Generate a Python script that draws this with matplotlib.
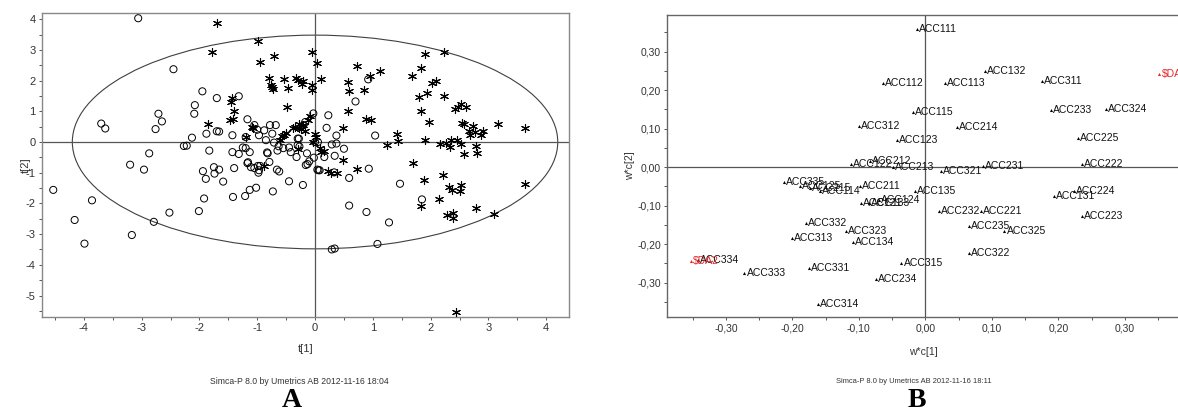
#!/usr/bin/env python
# coding: utf-8

# Score plot (A) and loading plot (B), Simca-P style

import numpy as np
import matplotlib
matplotlib.use('Agg')
import matplotlib.pyplot as plt
from matplotlib.patches import Ellipse
from matplotlib.ticker import MultipleLocator, FuncFormatter

# Data: score plot, open circles (t[1], t[2])
t1_circle = [-3.06, -2.45, -1.95, -1.70, -1.32, -2.08, -2.09, -2.71, -2.65, -2.76,
             -3.70, -3.63, -2.13, -1.88, -1.70, -1.66, -1.43, -1.17, -0.97, -1.20,
             -2.27, -2.22, -2.87, -1.83, -1.43, -1.32, -1.25, -1.20, -1.13, -3.20,
             -2.96, -1.94, -1.75, -1.66, -1.74, -1.89, -1.59, -1.40, -1.17, -1.11,
             -0.99, -0.95, -0.82, -0.83, -0.71, -0.79, -0.98, -0.66, -0.62, -0.78,
             -0.68, -0.88, -0.74, -0.63, -0.65, -0.45, -0.42, -0.32, -0.30, -4.53,
             -3.86, -1.92, -1.42, -1.21, -1.13, -1.02, -0.73, -4.16, -3.99, -3.17,
             -2.79, -2.52, -2.01, -0.21, 0.59, 0.89, 1.28, 1.47, 1.85, 0.29,
             0.34, 1.08, 0.92, 0.70, 0.23, 0.20, 0.37, 1.04, -0.03, -0.17,
             -0.20, -0.28, 0.00, 0.05, -0.30, -0.27, -0.45, -0.14, -0.02, 0.16,
             0.34, 0.50, 0.29, 0.37, -0.16, -0.13, 0.04, 0.08, 0.33, 0.59,
             0.93, -1.05, -1.00, -0.85, -0.55, -0.10, 0.06, -1.16, -1.05, -0.97]
t2_circle = [4.03, 2.37, 1.65, 1.43, 1.49, 1.20, 0.92, 0.92, 0.67, 0.42,
             0.60, 0.44, 0.14, 0.27, 0.35, 0.34, 0.22, 0.74, 0.22, 0.16,
             -0.13, -0.12, -0.37, -0.28, -0.33, -0.39, -0.18, -0.20, -0.33, -0.74,
             -0.90, -0.95, -0.82, -0.90, -1.03, -1.20, -1.29, -0.85, -0.69, -0.82,
             -0.78, -0.78, -0.37, -0.34, -0.02, -0.65, -1.00, -0.90, -0.96, 0.55,
             0.55, 0.38, 0.27, -0.14, -0.28, -1.28, -0.33, -0.49, 0.11, -1.56,
             -1.90, -1.84, -1.79, -1.76, -1.56, -1.49, -1.61, -2.54, -3.31, -3.03,
             -2.60, -2.30, -2.25, -1.40, -2.07, -2.28, -2.62, -1.36, -1.87, -3.50,
             -3.47, -3.32, 2.04, 1.32, 0.87, 0.46, 0.21, 0.21, 0.93, 0.65,
             0.55, 0.11, 0.00, 0.00, -0.10, -0.15, -0.18, -0.37, -0.51, -0.49,
             -0.45, -0.22, -0.08, -0.05, -0.75, -0.72, -0.90, -0.92, -0.99, -1.17,
             -0.87, 0.55, 0.40, 0.06, -0.20, -0.63, -0.92, -0.66, -0.85, -0.92]

# Data: score plot, asterisks (t[1], t[2])
t1_star = [-1.69, -1.78, -0.99, -0.96, -0.71, -0.79, -0.75, -0.73, -0.54, -0.33,
           -0.46, -0.48, -1.44, -1.46, -1.40, -1.47, -1.42, -1.85, -1.09, -1.08,
           -1.20, -0.57, -0.50, -0.38, -0.28, -0.28, -0.06, 0.04, -0.30, -0.22,
           -0.20, -0.06, 0.11, 0.72, 0.95, 1.12, 0.57, 0.59, 0.84, 0.57,
           0.89, 0.97, 0.49, 1.90, 2.23, 1.84, 1.68, 2.03, 2.10, 1.94,
           1.80, 2.23, 1.84, 1.97, 2.42, 2.52, 2.61, 2.48, 2.54, 2.58,
           2.73, 2.66, 2.69, 2.76, 2.91, 2.87, 3.16, 3.64, 1.42, 1.44,
           1.90, 1.24, 2.16, 2.27, 2.33, 2.36, 2.45, 2.52, 2.58, 2.79,
           2.80, 1.70, 2.22, 1.88, 2.31, 2.37, 2.50, 2.52, 3.64, -0.35,
           -0.25, -0.20, -0.12, -0.08, 0.00, 0.02, 0.08, 0.10, 0.49, 0.72,
           0.28, 0.38, -0.30, -0.54, 1.83, 2.14, 2.29, 2.39, 2.39, 2.78,
           3.10, 2.44, -0.89, 0.15, 0.22, -0.60, -0.05, -0.76, -0.04, -0.18]
t2_star = [3.88, 2.93, 3.28, 2.59, 2.80, 2.07, 1.78, 1.72, 2.05, 2.10,
           1.75, 1.14, 1.42, 1.30, 1.00, 0.72, 0.75, 0.60, 0.50, 0.45,
           0.17, 0.20, 0.28, 0.46, 0.46, 0.60, 2.93, 2.58, 2.03, 1.88,
           1.98, 1.69, 2.05, 2.47, 2.15, 2.31, 1.96, 1.67, 1.69, 1.01,
           0.75, 0.73, 0.46, 2.87, 2.94, 2.42, 2.15, 1.93, 2.00, 1.61,
           1.45, 1.49, 1.01, 0.65, 1.07, 1.24, 1.13, 1.15, 0.62, 0.58,
           0.53, 0.35, 0.22, 0.33, 0.36, 0.24, 0.58, 0.46, 0.27, 0.02,
           0.06, -0.11, -0.05, -0.02, -0.17, 0.08, 0.05, -0.05, -0.40, -0.14,
           -0.35, -0.67, -1.09, -1.23, -1.47, -1.55, -1.58, -1.40, -1.38, 0.48,
           0.42, 0.55, 0.72, 0.85, 0.25, 0.15, -0.18, -0.34, -0.58, -0.89,
           -1.00, -1.00, -0.22, 0.22, -2.08, -1.87, -2.38, -2.30, -2.47, -2.16,
           -2.33, -5.53, -0.78, -0.30, -0.95, 0.05, 1.85, 1.85, 0.00, 0.35]

# Hotelling T2 ellipse semi axes
ellipse_a = 4.2
ellipse_b = 3.48

# Data: loading plot (w*c[1], w*c[2])
var_names = ['ACC111', 'ACC112', 'ACC113', 'ACC114', 'ACC115', 'ACC121', 'ACC122',
             'ACC123', 'ACC124', 'ACC125', 'ACC131', 'ACC132', 'ACC133', 'ACC134',
             'ACC135', 'ACC211', 'ACC212', 'ACC213', 'ACC214', 'ACC215', 'ACC221',
             'ACC222', 'ACC223', 'ACC224', 'ACC225', 'ACC231', 'ACC232', 'ACC233',
             'ACC234', 'ACC235', 'ACC311', 'ACC312', 'ACC313', 'ACC314', 'ACC315',
             'ACC321', 'ACC322', 'ACC323', 'ACC324', 'ACC325', 'ACC331', 'ACC332',
             'ACC333', 'ACC334', 'ACC335']
wc1 = [-0.0125, -0.064, 0.029, -0.159, -0.018, -0.097, -0.112,
       -0.043, -0.070, -0.188, 0.193, 0.089, -0.085, -0.109,
       -0.016, -0.099, -0.083, -0.049, 0.048, -0.173, 0.084,
       0.235, 0.235, 0.224, 0.229, 0.086, 0.020, 0.189,
       -0.074, 0.066, 0.175, -0.100, -0.200, -0.162, -0.036,
       0.024, 0.066, -0.119, 0.271, 0.119, -0.175, -0.180,
       -0.272, -0.342, -0.212]
wc2 = [0.359, 0.218, 0.218, -0.063, 0.144, -0.094, 0.009,
       0.071, -0.085, -0.049, -0.076, 0.251, -0.093, -0.194,
       -0.063, -0.050, 0.017, 0.000, 0.105, -0.053, -0.113,
       0.007, -0.128, -0.061, 0.075, 0.004, -0.113, 0.149,
       -0.290, -0.154, 0.224, 0.107, -0.185, -0.355, -0.249,
       -0.009, -0.223, -0.165, 0.152, -0.165, -0.262, -0.144,
       -0.276, -0.241, -0.039]

# Y variables (red)
y_names = [r'\$DA1', r'\$DA2']
y_wc1 = [0.352, -0.353]
y_wc2 = [0.242, -0.243]

grey_text = '#333333'
plt.rcParams['font.family'] = ['Liberation Sans', 'DejaVu Sans']
plt.rcParams['axes.unicode_minus'] = False

fig = plt.figure(figsize=(11.78, 4.12), dpi=100)

# ---------- A: score plot ----------
axA = fig.add_axes([0.0354, 0.2313, 0.4474, 0.7371])
axA.add_patch(Ellipse((0, 0), 2 * ellipse_a, 2 * ellipse_b, fill=False,
                      edgecolor='#404040', lw=0.8))
axA.axhline(0, color='#555555', lw=0.9)
axA.axvline(0, color='#555555', lw=0.9)
axA.scatter(t1_circle, t2_circle, s=26, facecolors='none', edgecolors='black', lw=0.7, zorder=3)
axA.scatter(t1_star, t2_star, s=34, marker=(6, 2, 0), color='black', lw=0.8, zorder=3)

axA.set_xlim(-4.73, 4.39)
axA.set_ylim(-5.69, 4.2)
axA.xaxis.set_major_locator(MultipleLocator(1))
axA.xaxis.set_minor_locator(MultipleLocator(0.5))
axA.yaxis.set_major_locator(MultipleLocator(1))
axA.yaxis.set_minor_locator(MultipleLocator(0.5))
axA.xaxis.set_major_formatter(FuncFormatter(lambda v, p: f'{v:.0f}'))
axA.yaxis.set_major_formatter(FuncFormatter(lambda v, p: f'{v:.0f}'))
axA.tick_params(which='both', direction='out', length=2.5, width=0.7, color='#555555',
                labelsize=8, labelcolor=grey_text, pad=2)
for sp in axA.spines.values():
    sp.set_color('#888888')
    sp.set_linewidth(1.0)
axA.set_xlabel('t[1]', fontsize=8, color=grey_text)
axA.set_ylabel('t[2]', fontsize=8, color=grey_text)
axA.xaxis.set_label_coords(0.5, -0.09)
axA.yaxis.set_label_coords(-0.02, 0.5)

# ---------- B: loading plot ----------
axB = fig.add_axes([0.5665, 0.2299, 0.4437, 0.7344])
axB.axhline(0, color='#555555', lw=0.9)
axB.axvline(0, color='#555555', lw=0.9)
axB.scatter(wc1, wc2, s=5, marker='^', color='black', lw=0, zorder=3)
for name, x, y in zip(var_names, wc1, wc2):
    axB.annotate(name, (x, y), xytext=(1.5, 0), textcoords='offset points',
                 fontsize=7.5, va='center', ha='left', color='#111111')
axB.scatter(y_wc1, y_wc2, s=5, marker='^', color='#e8262a', lw=0, zorder=3)
for name, x, y in zip(y_names, y_wc1, y_wc2):
    axB.annotate(name, (x, y), xytext=(1.5, 0), textcoords='offset points',
                 fontsize=7.5, va='center', ha='left', color='#e8262a')

axB.set_xlim(-0.388, 0.398)
axB.set_ylim(-0.39, 0.396)
axB.xaxis.set_major_locator(MultipleLocator(0.1))
axB.xaxis.set_minor_locator(MultipleLocator(0.05))
axB.yaxis.set_major_locator(MultipleLocator(0.1))
axB.yaxis.set_minor_locator(MultipleLocator(0.05))
comma_fmt = FuncFormatter(lambda v, p: f'{v:.2f}'.replace('.', ','))
axB.xaxis.set_major_formatter(comma_fmt)
axB.yaxis.set_major_formatter(comma_fmt)
axB.tick_params(which='both', direction='out', length=2.5, width=0.7, color='#555555',
                labelsize=7.5, labelcolor=grey_text, pad=2)
for sp in axB.spines.values():
    sp.set_color('#666666')
    sp.set_linewidth(1.0)
axB.set_xlabel('w*c[1]', fontsize=7.5, color=grey_text)
axB.set_ylabel('w*c[2]', fontsize=7.5, color=grey_text)
axB.xaxis.set_label_coords(0.489, -0.097)
axB.yaxis.set_label_coords(-0.062, 0.5)

# footers and panel letters
fig.text(0.254, 0.0735, 'Simca-P 8.0 by Umetrics AB 2012-11-16 18:04', fontsize=6.2,
         color=grey_text, ha='center', va='center')
fig.text(0.776, 0.0735, 'Simca-P 8.0 by Umetrics AB 2012-11-16 18:11', fontsize=5.4,
         color=grey_text, ha='center', va='center')
fig.text(0.2476, 0.028, 'A', fontsize=20, fontweight='bold', family='Liberation Serif',
         ha='center', va='center')
fig.text(0.778, 0.028, 'B', fontsize=20, fontweight='bold', family='Liberation Serif',
         ha='center', va='center')

fig.savefig('out.png', dpi=100)
